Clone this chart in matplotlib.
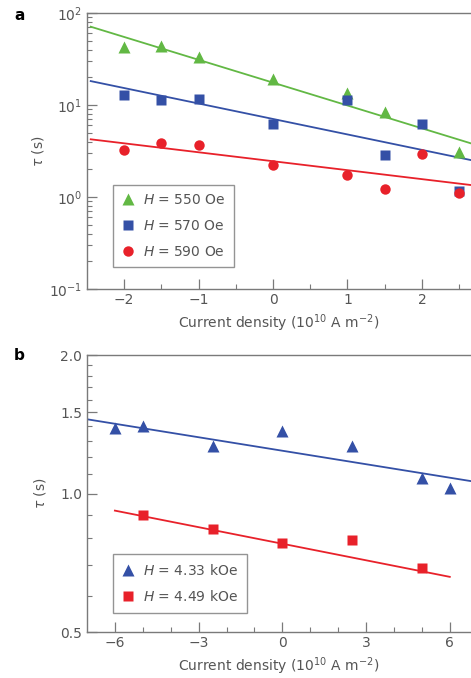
import matplotlib
matplotlib.use("Agg")
import matplotlib.pyplot as plt
from matplotlib.ticker import FixedLocator, NullFormatter, LogLocator

# panel a data
a_x = [-2, -1.5, -1, 0, 1, 1.5, 2, 2.5]
a_x550 = [-2, -1.5, -1, 0, 1, 1.5, 2.5]
a_550 = [43, 44, 33.5, 19.3, 13.4, 8.4, 3.1]
a_570 = [12.7, 11.3, 11.5, 6.2, 11.3, 2.88, 6.2, 1.17]
a_590 = [3.25, 3.86, 3.65, 2.21, 1.75, 1.21, 2.93, 1.11]
# fitted lines (end points)
a_fit_x = [-2.45, 2.66]
a_fit_550 = [71, 3.83]
a_fit_570 = [18.2, 2.52]
a_fit_590 = [4.24, 1.35]
a_labels = ["$H$ = 550 Oe", "$H$ = 570 Oe", "$H$ = 590 Oe"]

# panel b data
b_x433 = [-6, -5, -2.5, 0, 2.5, 5, 6]
b_433 = [1.39, 1.40, 1.27, 1.37, 1.27, 1.08, 1.03]
b_x449 = [-5, -2.5, 0, 2.5, 5]
b_449 = [0.90, 0.838, 0.782, 0.792, 0.69]
b_fit433_x = [-7, 6.76]
b_fit433 = [1.45, 1.064]
b_fit449_x = [-6, 6]
b_fit449 = [0.918, 0.659]
b_labels = ["$H$ = 4.33 kOe", "$H$ = 4.49 kOe"]

green = "#62b844"
blue = "#3450a6"
red = "#e8212a"
gray = "#7a7a7a"
tcol = "#555555"

plt.rcParams["font.family"] = "DejaVu Sans"
plt.rcParams["mathtext.fontset"] = "dejavusans"

fig = plt.figure(figsize=(4.71, 6.78), dpi=100)
ax1 = fig.add_axes([0.1847, 0.5737, 0.8153, 0.4071])
ax2 = fig.add_axes([0.1847, 0.0678, 0.8153, 0.4086])


def style(ax):
    for s in ["left", "bottom", "top"]:
        ax.spines[s].set_color(gray)
        ax.spines[s].set_linewidth(1.0)
    ax.spines["right"].set_visible(False)
    ax.tick_params(which="both", direction="in", colors=gray, labelcolor=tcol,
                   labelsize=10, top=False, right=False)
    ax.tick_params(which="major", length=7, width=0.9)
    ax.tick_params(which="minor", length=3.5, width=0.8)
    ax.tick_params(axis="x", which="major", pad=2.5)


def legend(ax, y0):
    leg = ax.legend(loc="lower left", bbox_to_anchor=(0.067, y0), fontsize=10,
                    frameon=True, fancybox=False, handlelength=1.0, handletextpad=0.6,
                    labelspacing=0.85, borderpad=0.6, borderaxespad=0, labelcolor=tcol)
    leg.get_frame().set_edgecolor(gray)
    leg.get_frame().set_linewidth(1.0)


# panel a
ax1.set_yscale("log")
ax1.plot(a_fit_x, a_fit_550, color=green, lw=1.3)
ax1.plot(a_fit_x, a_fit_570, color=blue, lw=1.3)
ax1.plot(a_fit_x, a_fit_590, color=red, lw=1.3)
ax1.plot(a_x550, a_550, "^", color=green, ms=8.5, mec="none", label=a_labels[0])
ax1.plot(a_x, a_570, "s", color=blue, ms=7, mec="none", label=a_labels[1])
ax1.plot(a_x, a_590, "o", color=red, ms=7.5, mec="none", label=a_labels[2])
ax1.set_xlim(-2.5, 2.66)
ax1.set_ylim(0.1, 100)
ax1.xaxis.set_major_locator(FixedLocator([-2, -1, 0, 1, 2]))
ax1.xaxis.set_minor_locator(FixedLocator([-1.5, -0.5, 0.5, 1.5, 2.5]))
ax1.set_xticklabels(["\u22122", "\u22121", "0", "1", "2"])
ax1.yaxis.set_major_locator(FixedLocator([0.1, 1, 10, 100]))
ax1.yaxis.set_minor_locator(LogLocator(base=10, subs=range(2, 10)))
ax1.yaxis.set_minor_formatter(NullFormatter())
ax1.set_yticklabels(["$10^{-1}$", "$10^{0}$", "$10^{1}$", "$10^{2}$"])
style(ax1)
ax1.set_xlabel("Current density (10$^{10}$ A m$^{-2}$)", color=tcol, fontsize=10, labelpad=4)
ax1.set_ylabel(r"$\tau$ (s)", color=tcol, fontsize=10, labelpad=2)
legend(ax1, 0.08)

# panel b
ax2.set_yscale("log")
ax2.plot(b_fit433_x, b_fit433, color=blue, lw=1.3)
ax2.plot(b_fit449_x, b_fit449, color=red, lw=1.3)
ax2.plot(b_x433, b_433, "^", color=blue, ms=8.5, mec="none", label=b_labels[0])
ax2.plot(b_x449, b_449, "s", color=red, ms=7, mec="none", label=b_labels[1])
ax2.set_xlim(-7, 6.76)
ax2.set_ylim(0.5, 2.0)
ax2.xaxis.set_major_locator(FixedLocator([-6, -3, 0, 3, 6]))
ax2.xaxis.set_minor_locator(FixedLocator([-5, -4, -2, -1, 1, 2, 4, 5]))
ax2.set_xticklabels(["\u22126", "\u22123", "0", "3", "6"])
ax2.yaxis.set_major_locator(FixedLocator([0.5, 1.0, 1.5, 2.0]))
ax2.yaxis.set_minor_locator(FixedLocator([0.6, 0.7, 0.8, 0.9, 1.1, 1.2, 1.3, 1.4,
                                          1.6, 1.7, 1.8, 1.9]))
ax2.yaxis.set_minor_formatter(NullFormatter())
ax2.set_yticklabels(["0.5", "1.0", "1.5", "2.0"])
style(ax2)
ax2.set_xlabel("Current density (10$^{10}$ A m$^{-2}$)", color=tcol, fontsize=10, labelpad=4)
ax2.set_ylabel(r"$\tau$ (s)", color=tcol, fontsize=10, labelpad=9)
legend(ax2, 0.07)

fig.text(0.03, 0.988, "a", fontsize=11, fontweight="bold", va="top")
fig.text(0.03, 0.487, "b", fontsize=11, fontweight="bold", va="top")

fig.savefig("out.png", dpi=100)
